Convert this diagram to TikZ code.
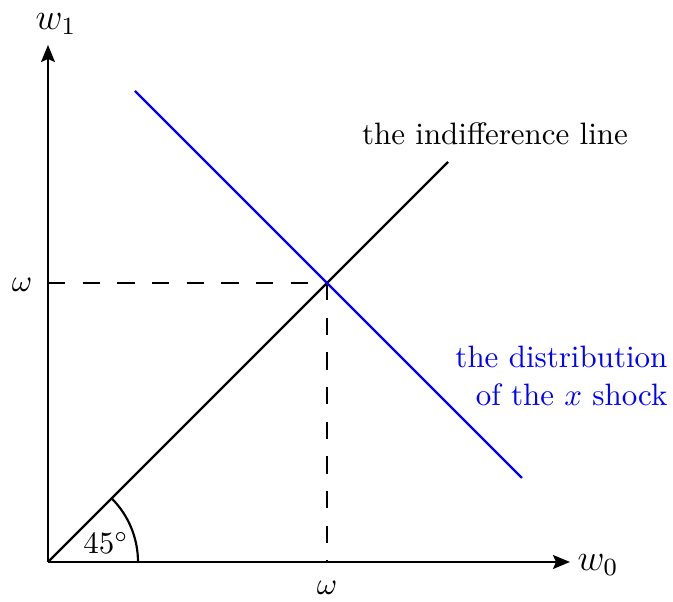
\documentclass[tikz,border=0pt]{standalone}
\usetikzlibrary{arrows.meta}
\begin{document}
\begin{tikzpicture}[x=0.323pt,y=0.323pt,
  axis/.style={line width=0.7pt,-{Stealth[length=5.5pt,width=4.5pt,inset=1pt]}},
  curve/.style={line width=0.7pt},
  guide/.style={line width=0.7pt,dash pattern=on 5.6pt off 5.6pt},
  lbl/.style={inner sep=0pt}]
\useasboundingbox (0,0) rectangle (673,602);
\coordinate (O) at (48,40);
\coordinate (xe) at (570,40);
\coordinate (ye) at (48,557);
\coordinate (P) at (327,319);
\coordinate (Py) at (48,319);
\coordinate (Px) at (327,40);
\coordinate (I) at (448,440);
\coordinate (B1) at (135,511);
\coordinate (B2) at (522,124);
% axes
\draw[axis] (O) -- (xe);
\draw[axis] (O) -- (ye);
\node[lbl] (w0) at (598,37) {\large $w_0$};
\node[lbl] (w1) at (56,578) {\large $w_1$};
% dashed guides
\draw[guide] (Py) -- (P);
\draw[guide] (P) -- (Px);
\node[lbl] (om1) at (22,317) {$\omega$};
\node[lbl] (om2) at (327,14) {$\omega$};
% lines
\draw[curve] (O) -- (I);
\draw[curve,blue] (B1) -- (B2);
% angle
\draw[curve] (138,40) arc[start angle=0,end angle=45,radius=90];
\node[lbl] (ang) at (106,59) {$45^\circ$};
% labels
\node[lbl] (indl) at (495,468) {the indifference line};
\node[lbl,blue,align=right,anchor=east] (dist) at (668,226) {the distribution\\of the $x$ shock};
\end{tikzpicture}
\end{document}
